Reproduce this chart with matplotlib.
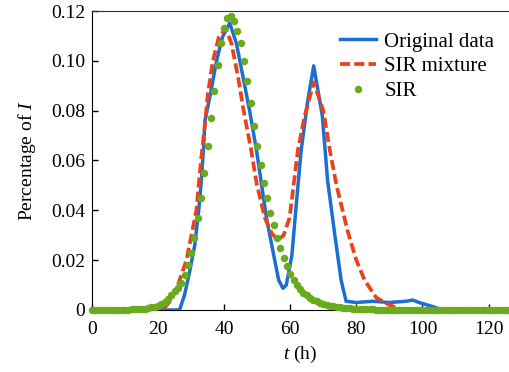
import numpy as np
import matplotlib.pyplot as plt

plt.rcParams['font.family'] = ['Liberation Serif', 'DejaVu Serif']
plt.rcParams['mathtext.fontset'] = 'custom'
plt.rcParams['mathtext.it'] = 'Liberation Serif:italic'
plt.rcParams['mathtext.rm'] = 'Liberation Serif'

# original data (blue)
t_orig = [0, 26.5, 28, 29.5, 31.1, 32.3, 33.1, 33.8, 34.2, 35.9, 37.7, 39.5, 41.7,
          43.7, 45.7, 47.7, 49.8, 52.8, 54.7, 56.5, 57.8, 58.8, 60.5, 62, 63.3,
          65.3, 67.1, 69.7, 71.3, 73.5, 75.4, 76.9, 80, 85, 90, 95, 97, 99, 104, 106, 126]
i_orig = [0, 0, 0.006, 0.015, 0.026, 0.040, 0.052, 0.066, 0.076, 0.087, 0.100, 0.1096, 0.1152,
          0.107, 0.0936, 0.080, 0.064, 0.037, 0.024, 0.012, 0.0087, 0.010, 0.022, 0.045, 0.064,
          0.084, 0.098, 0.078, 0.052, 0.030, 0.012, 0.0035, 0.003, 0.0035, 0.003, 0.0035, 0.004, 0.003, 0.001, 0, 0]

# SIR mixture (red dashed)
t_mix = [0, 20, 22, 24, 26, 28.6, 31.6, 33, 34.1, 35.1, 36.6, 38.4, 40.5, 42.2, 44.2,
         45.9, 48.2, 49.8, 52.3, 54.3, 56.2, 58, 59.8, 62.3, 64.3, 67.1, 70, 72, 74,
         77.3, 80, 82.5, 86, 90, 94, 126]
i_mix = [0, 0, 0.001, 0.004, 0.010, 0.020, 0.040, 0.060, 0.0735, 0.087, 0.100, 0.1096, 0.113, 0.107, 0.0936,
         0.080, 0.064, 0.051, 0.037, 0.031, 0.028, 0.030, 0.037, 0.064, 0.0775, 0.0914, 0.080, 0.064, 0.050,
         0.032, 0.020, 0.012, 0.005, 0.002, 0, 0]

# SIR (green dots), one per hour
t_sir = np.arange(0, 127)
i_sir = [0, 0, 0, 0, 0, 0, 0, 0, 0, 0.0001, 0.0001, 0.0001, 0.0002, 0.0002, 0.0003, 0.0004, 0.0005, 0.0007,
         0.0010, 0.0013, 0.0017, 0.0024, 0.0033, 0.0045, 0.006, 0.0075, 0.009, 0.011, 0.014, 0.018,
         0.023, 0.029, 0.037, 0.045, 0.055, 0.066, 0.077, 0.088, 0.0985, 0.107,
         0.113, 0.117, 0.118, 0.116, 0.112, 0.107, 0.100, 0.092, 0.083, 0.074,
         0.066, 0.058, 0.051, 0.045, 0.039, 0.034, 0.029, 0.025, 0.021, 0.0175,
         0.0145, 0.012, 0.010, 0.0085, 0.007, 0.006, 0.005, 0.0042, 0.0035, 0.003,
         0.0025, 0.0021, 0.0018, 0.0015, 0.0012, 0.001, 0.0009, 0.0008, 0.0006, 0.0005,
         0.0004, 0.0003, 0.0003, 0.0002, 0.0002, 0.0002, 0.0001, 0.0001, 0.0001, 0.0001] + [0] * 37

x_ticks = [0, 20, 40, 60, 80, 100, 120]
y_ticks = [0, 0.02, 0.04, 0.06, 0.08, 0.10, 0.12]
y_labels = ['0', '0.02', '0.04', '0.06', '0.08', '0.10', '0.12']

fig = plt.figure(figsize=(5.09, 3.72), dpi=100)
ax = fig.add_axes([0.1807, 0.1667, 0.8193, 0.8037])

ax.plot(t_orig, i_orig, color='#1b6fd0', linewidth=2.5, label='Original data', zorder=3)
ax.plot(t_mix, i_mix, color='#e8441c', linewidth=2.7, dashes=(2.7, 1.1),
        label='SIR mixture', zorder=4)
ax.plot(t_sir, i_sir, 'o', color='#6aaa1e', markersize=5.4, markeredgewidth=0,
        label='SIR', clip_on=False, zorder=5)

ax.set_xlim(0, 126.2)
ax.set_ylim(0, 0.12)
ax.set_xticks(x_ticks)
ax.set_yticks(y_ticks)
ax.set_yticklabels(y_labels)
ax.tick_params(direction='in', length=4, width=1, labelsize=14)
ax.tick_params(axis='x', pad=8)
ax.tick_params(axis='y', pad=5)
ax.spines['right'].set_visible(False)
ax.spines['top'].set_color('#333333')

ax.set_xlabel('$t$ (h)', fontsize=14, labelpad=4)
ax.set_ylabel('Percentage of $I$', fontsize=14, labelpad=9)

ax.legend(loc='upper right', bbox_to_anchor=(0.965, 0.93), frameon=False, fontsize=15,
          handlelength=1.75, handletextpad=0.4, labelspacing=0.25,
          borderaxespad=0, borderpad=0)

fig.savefig('out.png', dpi=100)
